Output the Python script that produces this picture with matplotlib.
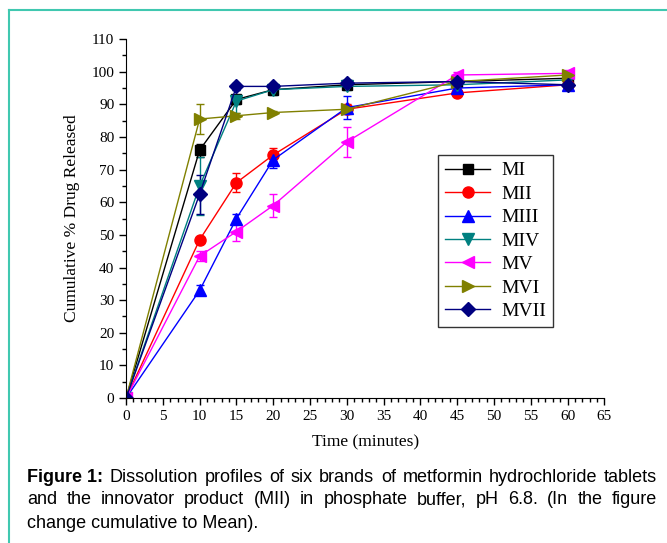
import matplotlib
matplotlib.use("Agg")
import matplotlib.pyplot as plt
from matplotlib.ticker import MultipleLocator
from matplotlib.lines import Line2D

time = [0, 10, 15, 20, 30, 45, 60]
labels = ["MI", "MII", "MIII", "MIV", "MV", "MVI", "MVII"]
MI = [0, 76.0, 91.5, 94.5, 96.0, 97.0, 98.0]
MII = [0, 48.5, 66.0, 74.5, 88.5, 93.5, 96.0]
MIII = [0, 33.0, 55.0, 73.0, 89.0, 95.0, 96.0]
MIV = [0, 65.0, 91.0, 94.5, 95.5, 96.0, 97.5]
MV = [0, 43.5, 51.0, 59.0, 78.5, 99.0, 99.5]
MVI = [0, 85.5, 86.5, 87.5, 88.5, 97.0, 99.0]
MVII = [0, 62.5, 95.5, 95.5, 96.5, 97.0, 96.0]
MI_err = [0, 2.0, 1.5, 1.0, 1.0, 1.0, 1.0]
MII_err = [0, 0.5, 3.0, 2.0, 1.5, 1.0, 1.0]
MIII_err = [0, 1.5, 1.5, 2.5, 3.5, 1.0, 1.0]
MIV_err = [0, 9.0, 3.5, 1.5, 1.0, 1.0, 1.0]
MV_err = [0, 1.5, 3.0, 3.5, 4.5, 1.0, 1.0]
MVI_err = [0, 4.5, 1.0, 0.5, 0.5, 1.0, 1.0]
MVII_err = [0, 6.0, 1.0, 0.5, 1.0, 1.0, 1.0]

series = [MI, MII, MIII, MIV, MV, MVI, MVII]
errs = [MI_err, MII_err, MIII_err, MIV_err, MV_err, MVI_err, MVII_err]
colors = ["black", "red", "blue", "#008080", "magenta", "#808000", "#000080"]
markers = ["s", "o", "^", "v", "<", ">", "D"]
msizes = [7.5, 8, 8, 8, 8, 8, 7]

plt.rcParams["font.family"] = ["Liberation Serif", "DejaVu Serif"]

fig = plt.figure(figsize=(6.67, 5.43), dpi=100)
ax = fig.add_axes([0.189, 0.267, 0.717, 0.661])

handles = []
for y, e, c, m, ms, lab in zip(series, errs, colors, markers, msizes, labels):
    ax.errorbar(time, y, yerr=e, color=c, marker=m, markersize=ms, lw=1.0,
                capsize=3, elinewidth=1.0, capthick=1.0, label=lab)
    handles.append(Line2D([], [], color=c, marker=m, markersize=ms, lw=1.0))

ax.set_xlim(0, 65)
ax.set_ylim(0, 110)
ax.xaxis.set_major_locator(MultipleLocator(5))
ax.xaxis.set_minor_locator(MultipleLocator(1))
ax.yaxis.set_major_locator(MultipleLocator(10))
ax.yaxis.set_minor_locator(MultipleLocator(5))
for s in ["top", "right"]:
    ax.spines[s].set_visible(False)
ax.tick_params(which="major", length=5, width=1, labelsize=11)
ax.tick_params(which="minor", length=3, width=1)
ax.set_xlabel("Time (minutes)", fontsize=12.5, labelpad=8)
ax.set_ylabel("Cumulative % Drug Released", fontsize=12.5, labelpad=8)

leg = ax.legend(handles, labels, loc="upper left", bbox_to_anchor=(0.653, 0.677),
                fontsize=14, frameon=True, fancybox=False, edgecolor="black",
                handlelength=2.3, labelspacing=0.3, borderpad=0.35, handletextpad=0.6,
                borderaxespad=0)
leg.get_frame().set_linewidth(1.0)

# teal frame
fig.add_artist(Line2D([9/667, 9/667], [0, 1 - 10/543], color="#40c8b0", lw=1.5,
                      transform=fig.transFigure))
fig.add_artist(Line2D([9/667, 1], [1 - 10/543, 1 - 10/543], color="#40c8b0", lw=1.5,
                      transform=fig.transFigure))

# caption with justification
cap_lines = [
    [("Figure 1:", "bold"), ("Dissolution", "normal"), ("profiles", "normal"), ("of", "normal"),
     ("six", "normal"), ("brands", "normal"), ("of", "normal"), ("metformin", "normal"),
     ("hydrochloride", "normal"), ("tablets", "normal")],
    [(w, "normal") for w in "and the innovator product (MII) in phosphate buffer, pH 6.8. (In the figure".split()],
]
last_line = "change cumulative to Mean)."
x0, x1 = 27, 657
ys = [478, 500, 523]
fig.canvas.draw()
renderer = fig.canvas.get_renderer()
cap_font = dict(family=["Liberation Sans Narrow", "Liberation Sans", "DejaVu Sans"],
                fontsize=13, va="center", ha="left")
for line, ypix in zip(cap_lines, ys):
    texts = []
    total = 0
    for w, wt in line:
        t = fig.text(0, 1 - ypix / 543, w, fontweight=wt, **cap_font)
        bb = t.get_window_extent(renderer)
        texts.append((t, bb.width))
        total += bb.width
    gap = (x1 - x0 - total) / (len(texts) - 1)
    x = x0
    for t, wd in texts:
        t.set_x(x / 667)
        x += wd + gap
fig.text(x0 / 667, 1 - ys[2] / 543, last_line, **cap_font)

fig.savefig("out.png", dpi=100)
